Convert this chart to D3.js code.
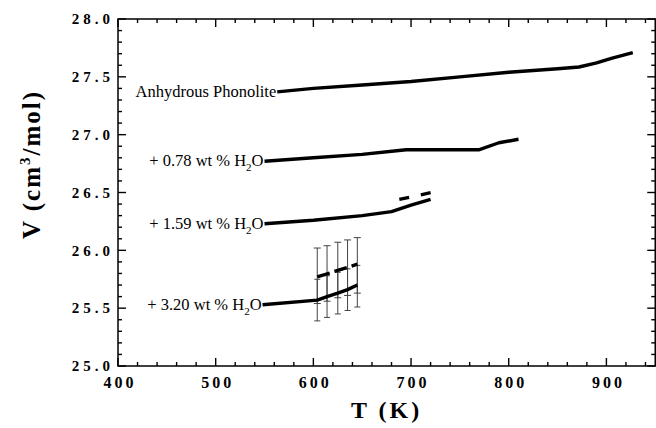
<!DOCTYPE html>
<html>
<head>
<meta charset="utf-8">
<script src="https://cdn.jsdelivr.net/npm/d3@7"></script>
<style>
  body { margin: 0; background: #fff; }
  svg { display: block; }
</style>
</head>
<body>
<svg id="chart" width="656" height="428"></svg>
<script>
// values
const anhT = [563, 600, 650, 700, 750, 800, 850, 872, 890, 905, 927];
const anhV = [27.37, 27.40, 27.43, 27.46, 27.50, 27.54, 27.57, 27.585, 27.62, 27.66, 27.71];

const w078T = [550, 600, 650, 695, 770, 790, 810];
const w078V = [26.77, 26.80, 26.83, 26.87, 26.87, 26.93, 26.96];

const w159T = [550, 600, 650, 680, 700, 720];
const w159V = [26.23, 26.26, 26.30, 26.335, 26.39, 26.44];
const w159dashT = [688, 721];
const w159dashV = [26.44, 26.50];

const w320T = [548, 604, 614, 625, 635, 645];
const w320V = [25.53, 25.57, 25.60, 25.63, 25.66, 25.70];
const w320dashT = [604, 645];
const w320dashV = [25.77, 25.88];

// error bars on the 3.20 wt% runs
const errT = [604, 614, 625, 635, 645];
const errSolid = [25.57, 25.60, 25.63, 25.66, 25.69];
const errDash = [25.78, 25.80, 25.83, 25.85, 25.87];
const errSolidSize = 0.18;
const errDashSize = 0.24;

const xTicks = [400, 500, 600, 700, 800, 900];
const yTicks = [25.0, 25.5, 26.0, 26.5, 27.0, 27.5, 28.0];

const labels = [
  { text: "Anhydrous Phonolite", h2o: false, T: 563, V: 27.37 },
  { text: "+ 0.78 wt % H", h2o: true, T: 550, V: 26.77 },
  { text: "+ 1.59 wt % H", h2o: true, T: 550, V: 26.23 },
  { text: "+ 3.20 wt % H", h2o: true, T: 548, V: 25.53 }
];

const margin = { left: 118, top: 19, right: 0.75, bottom: 62 };
const svg = d3.select("#chart");
const W = +svg.attr("width"), H = +svg.attr("height");
const iw = W - margin.left - margin.right;
const ih = H - margin.top - margin.bottom;

const x = d3.scaleLinear().domain([400, 950]).range([0, iw]);
const y = d3.scaleLinear().domain([25, 28]).range([ih, 0]);

const g = svg.append("g").attr("transform", "translate(" + margin.left + "," + margin.top + ")");

const serif = "'Liberation Serif', 'Times New Roman', serif";

// tick marks, pointing inward on all four sides
const xMinor = d3.range(420, 950, 20).filter(function(d) { return d % 100 !== 0; });
const yMinor = d3.range(251, 280, 1).map(function(d) { return d / 10; })
  .filter(function(d) { return Math.round(d * 10) % 5 !== 0; });

const xTickData = xMinor.map(function(d) { return { v: d, len: 4 }; })
  .concat(xTicks.map(function(d) { return { v: d, len: 8 }; }));
const yTickData = yMinor.map(function(d) { return { v: d, len: 4 }; })
  .concat(yTicks.map(function(d) { return { v: d, len: 8 }; }));

const ticks = g.append("g").attr("stroke", "#000").attr("stroke-width", 1.4);

ticks.selectAll("line.xb").data(xTickData).enter().append("line").attr("class", "xb")
  .attr("x1", function(d) { return x(d.v); }).attr("x2", function(d) { return x(d.v); })
  .attr("y1", ih).attr("y2", function(d) { return ih - d.len; });
ticks.selectAll("line.xt").data(xTickData).enter().append("line").attr("class", "xt")
  .attr("x1", function(d) { return x(d.v); }).attr("x2", function(d) { return x(d.v); })
  .attr("y1", 0).attr("y2", function(d) { return d.len; });
ticks.selectAll("line.yl").data(yTickData).enter().append("line").attr("class", "yl")
  .attr("y1", function(d) { return y(d.v); }).attr("y2", function(d) { return y(d.v); })
  .attr("x1", 0).attr("x2", function(d) { return d.len; });
ticks.selectAll("line.yr").data(yTickData).enter().append("line").attr("class", "yr")
  .attr("y1", function(d) { return y(d.v); }).attr("y2", function(d) { return y(d.v); })
  .attr("x1", iw).attr("x2", function(d) { return iw - d.len; });

// tick labels from the axis generators
const xAx = g.append("g").attr("transform", "translate(0," + ih + ")")
  .call(d3.axisBottom(x).tickValues(xTicks).tickSize(0).tickPadding(11).tickFormat(d3.format("d")));
const yAx = g.append("g")
  .call(d3.axisLeft(y).tickValues(yTicks).tickSize(0).tickPadding(4).tickFormat(d3.format(".1f")));

xAx.select(".domain").remove();
yAx.select(".domain").remove();

xAx.selectAll("text")
  .attr("font-family", serif).attr("font-weight", "bold").attr("font-size", "16px")
  .attr("letter-spacing", "3px").attr("fill", "#000")
  .attr("dx", "1.5px");

yAx.selectAll("text")
  .attr("font-family", serif).attr("font-weight", "bold").attr("font-size", "15px")
  .attr("letter-spacing", "4px").attr("fill", "#000")
  .attr("x", -4);

// frame
g.append("rect")
  .attr("width", iw).attr("height", ih)
  .attr("fill", "none").attr("stroke", "#000").attr("stroke-width", 1.5);

// error bars
function drawErr(centers, size, capW) {
  const eb = g.append("g").selectAll("g").data(errT).enter().append("g");
  eb.append("line")
    .attr("x1", function(d) { return x(d); }).attr("x2", function(d) { return x(d); })
    .attr("y1", function(d, i) { return y(centers[i] - size); })
    .attr("y2", function(d, i) { return y(centers[i] + size); })
    .attr("stroke", "#444").attr("stroke-width", 1);
  [-1, 1].forEach(function(s) {
    eb.append("line")
      .attr("x1", function(d) { return x(d) - capW; }).attr("x2", function(d) { return x(d) + capW; })
      .attr("y1", function(d, i) { return y(centers[i] + s * size); })
      .attr("y2", function(d, i) { return y(centers[i] + s * size); })
      .attr("stroke", "#444").attr("stroke-width", 1);
  });
}
drawErr(errDash, errDashSize, 3.5);
drawErr(errSolid, errSolidSize, 3);

// curves
const line = d3.line()
  .x(function(d) { return x(d[0]); })
  .y(function(d) { return y(d[1]); });

function drawCurve(ts, vs, dash) {
  g.append("path")
    .datum(d3.zip(ts, vs))
    .attr("d", line)
    .attr("fill", "none")
    .attr("stroke", "#000")
    .attr("stroke-width", 3.4)
    .attr("stroke-linejoin", "round")
    .attr("stroke-dasharray", dash || null);
}

drawCurve(anhT, anhV);
drawCurve(w078T, w078V);
drawCurve(w159T, w159V);
drawCurve(w159dashT, w159dashV, "10,12");
drawCurve(w320T, w320V);
drawCurve(w320dashT, w320dashV, "13,5");

// curve labels
labels.forEach(function(l) {
  const t = g.append("text")
    .attr("x", x(l.T) - 1)
    .attr("y", y(l.V) + 5)
    .attr("text-anchor", "end")
    .attr("font-family", serif)
    .attr("font-size", "16.5px")
    .attr("fill", "#000");
  t.append("tspan").text(l.text);
  if (l.h2o) {
    t.append("tspan").attr("font-size", "11px").attr("dy", 5).text("2");
    t.append("tspan").attr("dy", -5).text("O");
  }
});

// axis titles
svg.append("text")
  .attr("x", margin.left + iw / 2)
  .attr("y", 418)
  .attr("text-anchor", "middle")
  .attr("font-family", serif).attr("font-weight", "bold").attr("font-size", "24px")
  .attr("letter-spacing", "3px")
  .text("T (K)");

const yt = svg.append("text")
  .attr("transform", "translate(40," + (margin.top + ih / 2 - 28) + ") rotate(-90)")
  .attr("text-anchor", "middle")
  .attr("font-family", serif).attr("font-weight", "bold").attr("font-size", "25px")
  .attr("letter-spacing", "2px");
yt.append("tspan").text("V (cm");
yt.append("tspan").attr("font-size", "15px").attr("dy", -10).text("3");
yt.append("tspan").attr("dy", 10).text("/mol)");
</script>
</body>
</html>
